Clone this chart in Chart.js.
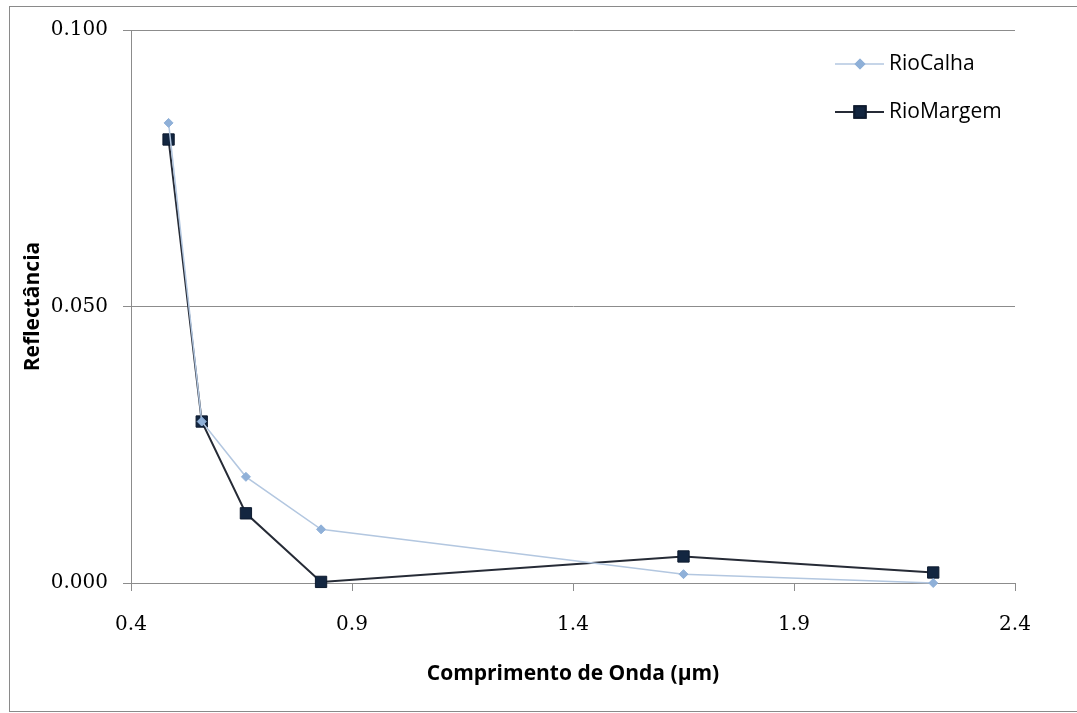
<!DOCTYPE html>
<html>
<head>
<meta charset="utf-8">
<script src="https://cdn.jsdelivr.net/npm/chart.js@4/dist/chart.umd.min.js"></script>
<style>
  html, body { margin: 0; padding: 0; background: #fff; }
  #wrap { position: relative; width: 1077px; height: 713px; overflow: hidden; }
  #frame { position: absolute; left: 9px; top: 6px; width: 1080px; height: 706px; border: 1px solid #8a8a8a; box-sizing: border-box; }
  canvas { position: absolute; left: 0; top: 0; }
</style>
</head>
<body>
<div id="wrap">
  <div id="frame"></div>
  <canvas id="chart" width="1077" height="713"></canvas>
</div>
<script>
// wavelength (µm) of each band
const wavelengths = [0.485, 0.56, 0.66, 0.83, 1.65, 2.215];
const rioCalha = [0.0832, 0.0292, 0.0192, 0.0097, 0.0016, 0.0000];
const rioMargem = [0.0802, 0.0292, 0.0126, 0.0002, 0.0048, 0.0019];
const seriesNames = ['RioCalha', 'RioMargem'];
const xTicks = [0.4, 0.9, 1.4, 1.9, 2.4];
const yTicks = [0.000, 0.050, 0.100];

const gridColor = '#8c8c8c';
const tickFont = { family: 'DejaVu Serif', size: 20 };
const titleFont = { family: 'Open Sans', size: 21, weight: 'bold' };

function points(ys) {
  return wavelengths.map((x, i) => ({ x: x, y: ys[i] }));
}

// legend drawn as a vertical list in the upper right corner
const sideLegend = {
  id: 'sideLegend',
  afterDraw(chart) {
    const ctx = chart.ctx;
    const rows = [64, 112];
    ctx.save();
    chart.data.datasets.forEach((ds, i) => {
      const y = rows[i];
      ctx.strokeStyle = ds.borderColor;
      ctx.lineWidth = ds.borderWidth;
      ctx.beginPath();
      ctx.moveTo(835, y);
      ctx.lineTo(884, y);
      ctx.stroke();
      Chart.helpers.drawPoint(ctx, {
        pointStyle: ds.pointStyle,
        radius: ds.pointRadius,
        borderWidth: 1
      }, 860, y);
      ctx.fillStyle = ds.pointBackgroundColor;
      ctx.strokeStyle = ds.pointBorderColor;
      ctx.fill();
      ctx.stroke();
      ctx.fillStyle = '#000';
      ctx.font = '21px "Open Sans"';
      ctx.textBaseline = 'middle';
      ctx.textAlign = 'left';
      ctx.fillText(ds.label, 889, y);
    });
    ctx.restore();
  }
};

new Chart(document.getElementById('chart'), {
  type: 'scatter',
  data: {
    datasets: [
      {
        label: seriesNames[0],
        data: points(rioCalha),
        showLine: true,
        borderColor: '#b3c7e0',
        borderWidth: 1.5,
        pointStyle: 'rectRot',
        pointRadius: 4.5,
        pointBackgroundColor: '#8fb0d8',
        pointBorderColor: '#8fb0d8',
        pointBorderWidth: 1
      },
      {
        label: seriesNames[1],
        data: points(rioMargem),
        showLine: true,
        borderColor: '#262b36',
        borderWidth: 2,
        pointStyle: 'rect',
        pointRadius: 8,
        pointBackgroundColor: '#132640',
        pointBorderColor: '#0d1a2e',
        pointBorderWidth: 1
      }
    ]
  },
  options: {
    responsive: false,
    animation: false,
    clip: false,
    layout: { padding: { left: 0, top: 30, right: 62, bottom: 0 } },
    plugins: {
      legend: { display: false },
      tooltip: { enabled: false }
    },
    scales: {
      x: {
        type: 'linear',
        min: 0.4,
        max: 2.4,
        afterBuildTicks(scale) { scale.ticks = xTicks.map(v => ({ value: v })); },
        afterFit(scale) { scale.height = 130; },
        grid: { drawOnChartArea: false, color: gridColor, tickLength: 8 },
        border: { color: gridColor },
        ticks: {
          color: '#000',
          font: tickFont,
          padding: 22,
          maxRotation: 0,
          callback: v => Number(v).toFixed(1)
        },
        title: {
          display: true,
          text: 'Comprimento de Onda (µm)',
          color: '#000',
          font: titleFont,
          padding: { top: 26, bottom: 26 }
        }
      },
      y: {
        min: 0,
        max: 0.1,
        afterBuildTicks(scale) { scale.ticks = yTicks.map(v => ({ value: v })); },
        afterFit(scale) { scale.width = 131; },
        grid: { color: gridColor, tickLength: 8 },
        border: { color: gridColor },
        ticks: {
          color: '#000',
          font: tickFont,
          padding: 15,
          callback: v => Number(v).toFixed(3)
        },
        title: {
          display: true,
          text: 'Reflectância',
          color: '#000',
          font: titleFont,
          padding: { top: 20, bottom: 20 }
        }
      }
    }
  },
  plugins: [sideLegend]
});
</script>
</body>
</html>
